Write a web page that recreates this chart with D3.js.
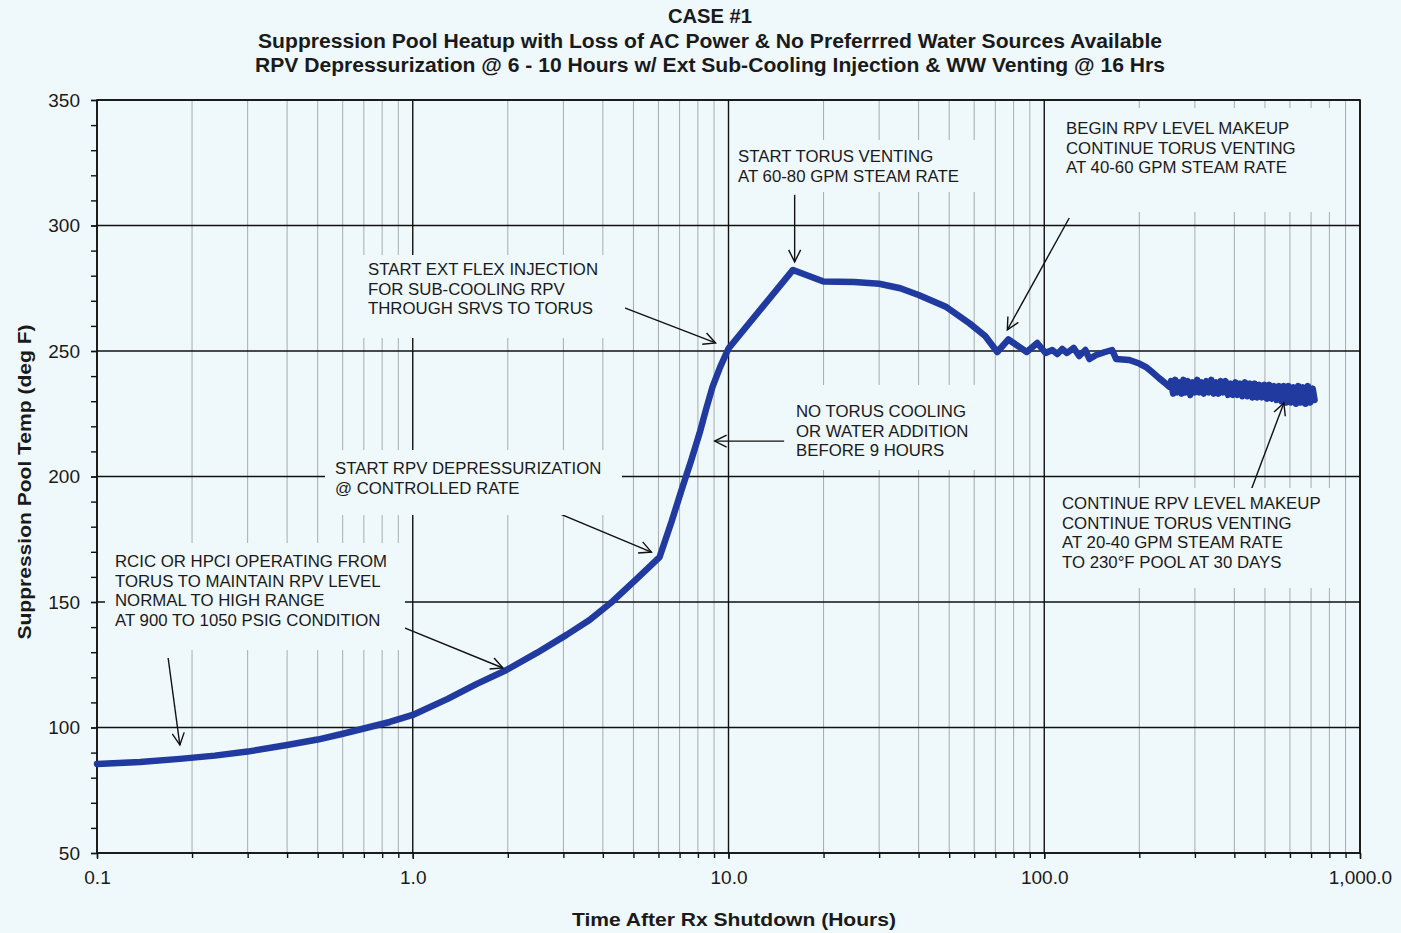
<!DOCTYPE html>
<html>
<head>
<meta charset="utf-8">
<script src="https://cdn.jsdelivr.net/npm/d3@7"></script>
<style>
    body { margin: 0; background: #eff8fa; }
    text { font-family: "Liberation Sans", Arial, sans-serif; fill: #1a1a1a; }
</style>
</head>
<body>
<div id="chart"></div>
<script>
// Time after shutdown (hours) and suppression pool temperature (deg F)
const hours = [0.1, 0.137, 0.183, 0.236, 0.3, 0.4, 0.5, 0.596, 0.7, 0.846, 1.0, 1.29, 1.59, 1.98, 2.47, 3.07, 3.63, 4.3, 5.12, 6.05,
    6.6, 7.15, 7.6, 8.1, 8.5, 8.9, 9.4, 10, 16, 20, 25, 30, 35, 40, 49, 58, 65, 71, 77, 88, 95, 101, 106, 110,
    114, 118, 124, 129, 135, 139, 146, 155, 164, 169, 186, 200, 210, 220, 231, 240, 249,
    252, 256, 260, 264, 268, 272, 276, 280, 285, 290, 295, 300, 305, 310, 315, 320, 326, 332, 338, 344,
    350, 356, 362, 368, 375, 382, 389, 396, 403, 410, 417, 424, 432, 440, 448, 456, 464, 472, 480, 489,
    498, 507, 516, 525, 534, 544, 554, 564, 574, 584, 594, 605, 616, 627, 638, 649, 660, 672, 684, 696, 708, 718];
const poolTemp = [85.5, 86.3, 87.5, 88.8, 90.4, 93.0, 95.2, 97.4, 99.6, 102.2, 105.0, 111.4, 117.3, 122.9, 129.7, 136.9, 142.8, 150.3, 159.2, 167.9,
    182, 195.8, 206, 217.3, 227, 235.7, 243.5, 251, 282.3, 277.7, 277.5, 276.8, 275, 272.3, 267.5, 261, 256, 249.6, 254.6, 249.6, 253.2, 249.2, 250.4, 248.8,
    250.8, 249.2, 251.2, 248, 250.4, 246.8, 248.4, 249.5, 250.4, 246.8, 246.4, 245, 243.6, 241.5, 239.2, 237.5, 235.7,
    238, 233, 238.5, 233.5, 237.5, 233, 238.5, 233.5, 238, 232.5, 237.5, 233.5, 238.5, 233.5, 237.5, 233, 238, 233.5, 238.5, 233,
    237.5, 233, 238, 233.5, 238, 232.5, 237, 232.5, 237.5, 232.5, 237, 232, 237.5, 232, 237, 231.5, 237, 231.5, 236.5, 231.5,
    236.5, 231, 236.5, 231, 236, 230.5, 236, 230, 236, 229.5, 236, 229.5, 235.5, 229, 236, 229.5, 235.5, 229, 236, 229.5, 235, 230.5];

const xMajor = [0.1, 1, 10, 100, 1000];
const xTickLabels = ["0.1", "1.0", "10.0", "100.0", "1,000.0"];
const yMajor = [50, 100, 150, 200, 250, 300, 350];
const yMinor = d3.range(50, 351, 10);

const titleLines = [
    "CASE #1",
    "Suppression Pool Heatup with Loss of AC Power & No Preferrred Water Sources Available",
    "RPV Depressurization @ 6 - 10 Hours w/ Ext Sub-Cooling Injection & WW Venting @ 16 Hrs"
];

// annotation notes: text lines, text position (px), mask box (px)
const notes = [
    {lines: ["RCIC OR HPCI OPERATING FROM", "TORUS TO MAINTAIN RPV LEVEL", "NORMAL TO HIGH RANGE", "AT 900 TO 1050 PSIG CONDITION"],
        x: 115, y: 567, box: [105, 543, 300, 107]},
    {lines: ["START RPV DEPRESSURIZATION", "@ CONTROLLED RATE"],
        x: 335, y: 474, box: [325, 450, 297, 65]},
    {lines: ["START EXT FLEX INJECTION", "FOR SUB-COOLING RPV", "THROUGH SRVS TO TORUS"],
        x: 368, y: 275, box: [355, 255, 270, 83]},
    {lines: ["NO TORUS COOLING", "OR WATER ADDITION", "BEFORE 9 HOURS"],
        x: 796, y: 417, box: [785, 385, 200, 85]},
    {lines: ["START TORUS VENTING", "AT 60-80 GPM STEAM RATE"],
        x: 738, y: 162, box: [733, 140, 242, 52]},
    {lines: ["BEGIN RPV LEVEL MAKEUP", "CONTINUE TORUS VENTING", "AT 40-60 GPM STEAM RATE"],
        x: 1066, y: 134, box: [1047, 108, 288, 104]},
    {lines: ["CONTINUE RPV LEVEL MAKEUP", "CONTINUE TORUS VENTING", "AT 20-40 GPM STEAM RATE", "TO 230°F POOL AT 30 DAYS"],
        x: 1062, y: 509, box: [1050, 488, 290, 100]}
];

// arrows in data coordinates: [from hours, from temp, to hours, to temp]
const arrows = [
    [0.168, 127.7, 0.183, 93.0],
    [0.929, 140.0, 1.93, 123.7],
    [2.18, 191.8, 5.70, 169.9],
    [4.05, 270.3, 9.10, 253.2],
    [15.0, 214.1, 9.04, 214.1],
    [16.2, 312.2, 16.2, 285.5],
    [120, 303.0, 76.4, 258.4],
    [452, 194.6, 574, 229.3]
];

const margin = {top: 100, left: 97, right: 41, bottom: 80};
const width = 1401, height = 933;
const plotWidth = width - margin.left - margin.right;
const plotHeight = height - margin.top - margin.bottom;

const svg = d3.select("#chart").append("svg")
    .attr("width", width)
    .attr("height", height);

svg.append("rect").attr("width", width).attr("height", height).attr("fill", "#eff8fa");

const defs = svg.append("defs");
defs.append("marker")
    .attr("id", "arrow")
    .attr("viewBox", "-13 -7 15 14")
    .attr("refX", 0).attr("refY", 0)
    .attr("markerWidth", 15).attr("markerHeight", 14)
    .attr("markerUnits", "userSpaceOnUse")
    .attr("orient", "auto")
    .append("path")
    .attr("d", "M-12,-6 L0,0 L-12,6")
    .attr("fill", "none")
    .attr("stroke", "#111")
    .attr("stroke-width", 1.4);

const g = svg.append("g").attr("transform", `translate(${margin.left}, ${margin.top})`);

const x = d3.scaleLog().domain([0.1, 1000]).range([0, plotWidth]);
const y = d3.scaleLinear().domain([50, 350]).range([plotHeight, 0]);

const allXTicks = x.ticks();
const isDecade = d => Math.abs(Math.log10(d) - Math.round(Math.log10(d))) < 1e-9;

// minor vertical grid
g.append("g").selectAll("line")
    .data(allXTicks.filter(d => !isDecade(d)))
    .join("line")
    .attr("x1", d => x(d)).attr("x2", d => x(d))
    .attr("y1", 0).attr("y2", plotHeight)
    .attr("stroke", "#a6adaf").attr("stroke-width", 1);

// major grid
g.append("g").selectAll("line")
    .data(xMajor)
    .join("line")
    .attr("x1", d => x(d)).attr("x2", d => x(d))
    .attr("y1", 0).attr("y2", plotHeight)
    .attr("stroke", "#111").attr("stroke-width", 1.4);

g.append("g").selectAll("line")
    .data(yMajor)
    .join("line")
    .attr("x1", 0).attr("x2", plotWidth)
    .attr("y1", d => y(d)).attr("y2", d => y(d))
    .attr("stroke", "#111").attr("stroke-width", 1.4);

// boxes behind the notes hide the grid
svg.append("g").selectAll("rect")
    .data(notes)
    .join("rect")
    .attr("x", d => d.box[0]).attr("y", d => d.box[1])
    .attr("width", d => d.box[2]).attr("height", d => d.box[3])
    .attr("fill", "#eff8fa");

// frame
g.append("rect")
    .attr("width", plotWidth).attr("height", plotHeight)
    .attr("fill", "none").attr("stroke", "#111").attr("stroke-width", 1.6);

// axes
const yAxisMinor = g.append("g")
    .call(d3.axisLeft(y).tickValues(yMinor).tickSize(6).tickFormat(""));
const yAxis = g.append("g")
    .call(d3.axisLeft(y).tickValues(yMajor).tickSize(6).tickPadding(11));
yAxis.selectAll("text").style("font-size", "19px").attr("fill", "#222");

const xAxisMinor = g.append("g")
    .attr("transform", `translate(0, ${plotHeight})`)
    .call(d3.axisBottom(x).tickValues(allXTicks).tickSize(5).tickFormat(""));
const xAxis = g.append("g")
    .attr("transform", `translate(0, ${plotHeight})`)
    .call(d3.axisBottom(x).tickValues(xMajor).tickSize(6).tickPadding(12)
        .tickFormat((d, i) => xTickLabels[i]));
xAxis.selectAll("text").style("font-size", "19px").attr("fill", "#222");

[yAxisMinor, yAxis, xAxisMinor, xAxis].forEach(a => {
    a.select(".domain").remove();
    a.selectAll("line").attr("stroke", "#111").attr("stroke-width", 1.4);
});

// curve
const data = hours.map((h, i) => ({h: h, t: poolTemp[i]}));
g.append("path")
    .datum(data)
    .attr("fill", "none")
    .attr("stroke", "#213a9f")
    .attr("stroke-width", 6.5)
    .attr("stroke-linejoin", "round")
    .attr("stroke-linecap", "round")
    .attr("d", d3.line().x(d => x(d.h)).y(d => y(d.t)));

// arrows
g.append("g").selectAll("line")
    .data(arrows)
    .join("line")
    .attr("x1", d => x(d[0])).attr("y1", d => y(d[1]))
    .attr("x2", d => x(d[2])).attr("y2", d => y(d[3]))
    .attr("stroke", "#111").attr("stroke-width", 1.4)
    .attr("marker-end", "url(#arrow)");

// note texts
notes.forEach(n => {
    const t = svg.append("text")
        .attr("x", n.x).attr("y", n.y)
        .style("font-size", "16.8px");
    n.lines.forEach((line, i) => {
        t.append("tspan").attr("x", n.x).attr("dy", i === 0 ? 0 : 19.5).text(line);
    });
});

// titles
const titleWidths = [84, 904, 910];
titleLines.forEach((line, i) => {
    svg.append("text")
        .attr("x", 710).attr("y", 23 + i * 24.5)
        .attr("text-anchor", "middle")
        .attr("textLength", titleWidths[i])
        .attr("lengthAdjust", "spacingAndGlyphs")
        .style("font-family", "'Liberation Sans Narrow', 'Liberation Sans', Arial, sans-serif")
        .style("font-size", "20px")
        .style("font-weight", "bold")
        .text(line);
});

// axis labels
svg.append("text")
    .attr("x", 734).attr("y", 926)
    .attr("text-anchor", "middle")
    .attr("textLength", 324)
    .attr("lengthAdjust", "spacingAndGlyphs")
    .style("font-size", "19px")
    .style("font-weight", "bold")
    .text("Time After Rx Shutdown (Hours)");

svg.append("text")
    .attr("transform", "translate(31, 482) rotate(-90)")
    .attr("text-anchor", "middle")
    .attr("textLength", 315)
    .attr("lengthAdjust", "spacingAndGlyphs")
    .style("font-size", "19px")
    .style("font-weight", "bold")
    .text("Suppression Pool Temp (deg F)");
</script>
</body>
</html>
